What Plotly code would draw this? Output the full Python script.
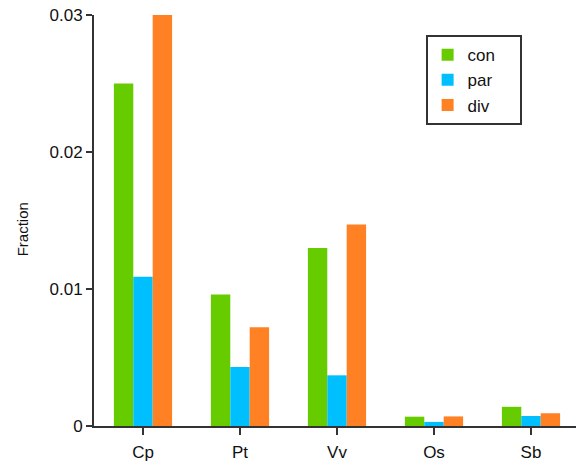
import plotly.graph_objects as go

# Fractions per genome for each class
species = ["Cp", "Pt", "Vv", "Os", "Sb"]
con = [0.0250, 0.0096, 0.0130, 0.00068, 0.0014]
par = [0.0109, 0.0043, 0.0037, 0.00030, 0.00073]
div = [0.0300, 0.0072, 0.0147, 0.00070, 0.00093]

series = [("con", con, "#66CC00"), ("par", par, "#00BFFF"), ("div", div, "#FF8124")]

# trailing non-breaking spaces widen the legend box
pad = "\u00a0" * 4

fig = go.Figure()
for name, vals, color in series:
    fig.add_trace(go.Bar(
        x=species, y=vals, name=name + pad, legendgroup=name,
        marker=dict(color=color, line=dict(width=0)),
    ))

axis_color = "#333333"
fig.update_layout(
    width=576, height=468,
    margin=dict(l=94, r=0, t=15, b=42),
    plot_bgcolor="white", paper_bgcolor="white",
    font=dict(family="Liberation Sans, Arial, sans-serif", color="#111111"),
    barmode="group", bargap=0.4, bargroupgap=0,
    xaxis=dict(
        range=[-0.505, 4.464], showline=True, linecolor=axis_color, linewidth=2,
        ticks="outside", ticklen=7, tickwidth=2, tickcolor=axis_color,
        tickfont=dict(size=17), ticklabelstandoff=3, showgrid=False, zeroline=False,
    ),
    yaxis=dict(
        range=[0, 0.03], showline=True, linecolor=axis_color, linewidth=2,
        ticks="outside", ticklen=6, tickwidth=2, tickcolor=axis_color,
        tickvals=[0, 0.01, 0.02, 0.03], ticktext=["0", "0.01", "0.02", "0.03"],
        tickfont=dict(size=17), showgrid=False, zeroline=False,
    ),
    legend=dict(
        x=0.688, y=0.951, xanchor="left", yanchor="top",
        bordercolor=axis_color, borderwidth=2, bgcolor="white",
        font=dict(size=17), tracegroupgap=0, traceorder="grouped",
        itemsizing="constant",
    ),
    showlegend=True,
    annotations=[dict(
        text="Fraction", textangle=-90, showarrow=False,
        xref="paper", yref="paper", x=-0.149, y=0.479,
        xanchor="center", yanchor="middle", font=dict(size=15),
    )],
)

fig.write_html("out.html")
